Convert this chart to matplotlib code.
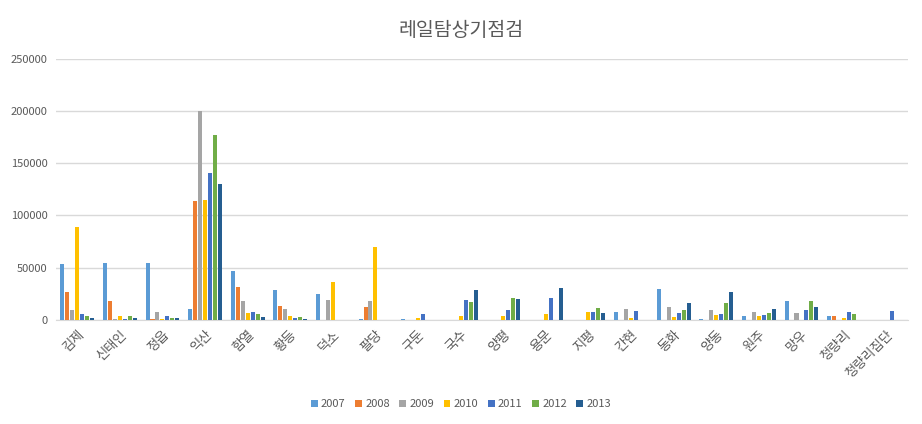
import numpy as np
import matplotlib
matplotlib.use('Agg')
import matplotlib.pyplot as plt

plt.rcParams['font.family'] = ['Noto Sans CJK KR', 'DejaVu Sans']

title = '레일탐상기점검'
stations = ['김제', '신태인', '정읍', '익산', '함열', '황등', '덕소', '팔당', '구둔', '국수',
            '양평', '용문', '지평', '간현', '동화', '양동', '원주', '망우', '청량리', '청량리집단']
years = ['2007', '2008', '2009', '2010', '2011', '2012', '2013']

v2007 = [53800, 54700, 54700, 10500, 47000, 28700, 24900, 1000, 950, 0,
         0, 0, 0, 7600, 29400, 950, 3800, 18000, 3800, 0]
v2008 = [26900, 18200, 1000, 114000, 31600, 13400, 0, 12500, 0, 0,
         0, 0, 0, 0, 0, 0, 0, 0, 3800, 0]
v2009 = [9600, 1000, 7700, 199500, 18200, 10500, 19200, 18200, 0, 0,
         0, 0, 0, 10400, 12300, 9500, 7600, 6650, 0, 0]
v2010 = [89200, 3800, 1000, 115000, 6700, 3800, 36400, 70000, 1900, 3800,
         3800, 5700, 7600, 1900, 2850, 4750, 3800, 0, 1900, 0]
v2011 = [5800, 1000, 3800, 141000, 7700, 1900, 0, 0, 5700, 19000,
         9500, 20900, 7600, 8500, 6650, 5700, 4750, 9500, 7600, 8500]
v2012 = [3900, 3800, 1900, 176500, 5750, 2900, 0, 0, 0, 17100,
         20900, 0, 11400, 0, 9500, 16100, 6650, 18000, 5700, 0]
v2013 = [1900, 1900, 1900, 130400, 2900, 1000, 0, 0, 0, 28500,
         19900, 30400, 6650, 0, 16100, 26600, 10400, 12300, 0, 0]

series = [v2007, v2008, v2009, v2010, v2011, v2012, v2013]
colors = ['#5B9BD5', '#ED7D31', '#A5A5A5', '#FFC000', '#4472C4', '#70AD47', '#255E91']

fig = plt.figure(figsize=(9.22, 4.24), dpi=100)
ax = fig.add_axes([0.0607, 0.2453, 0.9241, 0.6167])

x = np.arange(len(stations))
pitch = 0.117
width = 0.094
for i, (vals, col, yr) in enumerate(zip(series, colors, years)):
    ax.bar(x + (i - 3) * pitch, vals, width=width, color=col, label=yr, zorder=3)

ax.set_xlim(-0.5, len(stations) - 0.5)
ax.set_ylim(0, 250000)
ax.set_yticks(np.arange(0, 250001, 50000))
ax.set_yticklabels([str(v) for v in range(0, 250001, 50000)], fontsize=8, color='#595959')
ax.yaxis.grid(True, color='#D9D9D9', linewidth=1, zorder=0)
ax.set_xticks(x)
ax.set_xticklabels(stations, rotation=45, ha='right', rotation_mode='anchor',
                   fontsize=9.5, color='#595959')
ax.tick_params(axis='both', length=0)
ax.tick_params(axis='x', pad=6)
ax.tick_params(axis='y', pad=6)
for side in ['top', 'right', 'left']:
    ax.spines[side].set_visible(False)
ax.spines['bottom'].set_color('#D9D9D9')

fig.text(0.5, 0.929, title, ha='center', va='center', fontsize=14, color='#595959')

fig.legend(loc='center', bbox_to_anchor=(0.5, 0.047), ncol=7, frameon=False,
           fontsize=8, handlelength=0.6, handleheight=0.6, handletextpad=0.3,
           columnspacing=0.86, labelcolor='#595959')

fig.savefig('out.png', dpi=100)
